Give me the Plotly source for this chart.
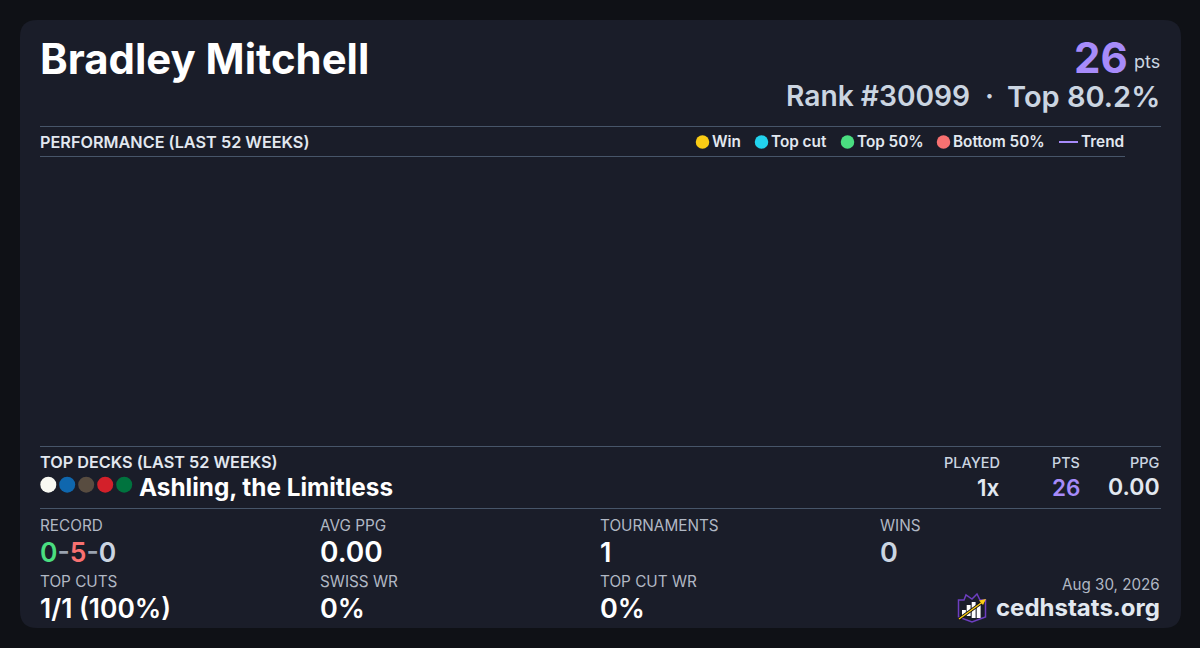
#!/usr/bin/env python3
import plotly.graph_objects as go

FONT = "Inter"
PAGE_BG = "#0f1116"
CARD_BG = "#1a1d29"
RULE = "#475569"
WHITE = "#ffffff"
PURPLE = "#a78bfa"
SLATE = "#cbd5e1"
LIGHT = "#e2e8f0"
MUTED = "#b1b8c4"

player_name = "Bradley Mitchell"
points = 26
rank_left = "Rank #30099"
rank_sep = "·"
rank_right = "Top 80.2%"

legend_labels = ["Win", "Top cut", "Top 50%", "Bottom 50%"]
legend_colors = ["#facc15", "#22d3ee", "#4ade80", "#f87171"]

deck_name = "Ashling, the Limitless"
deck_colors = ["#f8f8f2", "#0f67ae", "#584c40", "#d3202a", "#00733e"]
deck_played = "1x"
deck_pts = "26"
deck_ppg = "0.00"

stat_labels = ["RECORD", "AVG PPG", "TOURNAMENTS", "WINS", "TOP CUTS", "SWISS WR", "TOP CUT WR"]
stat_values = ["0-5-0", "0.00", "1", "0", "1/1 (100%)", "0%", "0%"]

fig = go.Figure()


def label(x, y, text, size, color, weight=400, anchor="left"):
    fig.add_annotation(
        x=x, y=y, text=text, showarrow=False, xanchor=anchor, yanchor="middle",
        xref="x", yref="y", borderpad=0, borderwidth=0,
        font=dict(family=FONT, size=size, color=color, weight=weight),
    )


def rounded(x0, y0, x1, y1, r):
    return (f"M{x0+r},{y0} L{x1-r},{y0} Q{x1},{y0} {x1},{y0+r} L{x1},{y1-r} Q{x1},{y1} {x1-r},{y1} "
            f"L{x0+r},{y1} Q{x0},{y1} {x0},{y1-r} L{x0},{y0+r} Q{x0},{y0} {x0+r},{y0} Z")


def rule(x0, x1, y):
    fig.add_shape(type="line", x0=x0, x1=x1, y0=y, y1=y, line=dict(color=RULE, width=1))


fig.add_shape(type="path", path=rounded(20, 20, 1181, 628, 17), fillcolor=CARD_BG, line_width=0, layer="below")

# header
label(40, 58, player_name, 41.9, WHITE, 700)
label(1127.5, 57.5, str(points), 42, PURPLE, 700, "right")
label(1159.5, 61.5, "pts", 18, SLATE, 400, "right")
label(970, 96, rank_left, 28.2, SLATE, 600, "right")
label(989, 95.5, rank_sep, 28, SLATE, 600, "center")
label(1160, 96, rank_right, 29, SLATE, 600, "right")

# performance section, no games in the window so the plot area stays empty
rule(40, 1161, 126.5)
rule(40, 1125, 156.5)
label(40, 142, "PERFORMANCE (LAST 52 WEEKS)", 16.25, LIGHT, 600)

legend_x = [702.5, 761.5, 847.5, 943.5]
fig.add_trace(go.Scatter(
    x=legend_x, y=[142] * len(legend_x), mode="markers", hoverinfo="skip",
    marker=dict(size=13.5, color=legend_colors, line_width=0),
))
for x, text in zip(legend_x, legend_labels):
    label(x + 9.5, 141.5, text, 15.3, LIGHT, 600)
fig.add_shape(type="line", x0=1059, x1=1078, y0=142, y1=142, line=dict(color=PURPLE, width=2))
label(1081, 141.5, "Trend", 15.4, LIGHT, 600)

# top decks
rule(40, 1161, 446.5)
rule(40, 1161, 508.5)
label(40, 462, "TOP DECKS (LAST 52 WEEKS)", 16.25, LIGHT, 600)
deck_x = [48.3, 67.2, 86.2, 105.2, 124.2]
fig.add_trace(go.Scatter(
    x=deck_x, y=[484.7] * len(deck_x), mode="markers", hoverinfo="skip",
    marker=dict(size=16, color=deck_colors, line_width=0),
))
label(139, 487, deck_name, 24.3, WHITE, 700)
label(1000, 462, "PLAYED", 14.5, SLATE, 500, "right")
label(1080, 462, "PTS", 14.3, SLATE, 500, "right")
label(1159, 462, "PPG", 14.5, SLATE, 500, "right")
label(1000, 487, deck_played, 22.5, LIGHT, 600, "right")
label(1080, 487, deck_pts, 22.5, PURPLE, 600, "right")
label(1159.5, 487, deck_ppg, 23, LIGHT, 600, "right")

# stat grid
stat_x = [40, 320, 600, 880, 40, 320, 600]
stat_label_y = [525.3, 525.3, 525.3, 525.3, 581.3, 581.3, 581.3]
stat_value_y = [552, 552, 552, 552, 608, 608, 608]
stat_size = [26.5, 28, 27, 27, 26.4, 27, 27]
for i, name in enumerate(stat_labels):
    label(stat_x[i], stat_label_y[i], name, 15.3, MUTED, 400)
    value = stat_values[i]
    color = WHITE
    if name == "RECORD":
        w, l, d = value.split("-")
        value = (f"<span style='color:#4ade80'>{w}</span>-"
                 f"<span style='color:#f87171'>{l}</span>-<span style='color:#cbd5e1'>{d}</span>")
        color = "#9aa3b0"
    if name == "WINS":
        color = SLATE
    label(stat_x[i], stat_value_y[i], value, stat_size[i], color, 600)

# footer
label(1160, 584, "Aug 30, 2026", 15.2, MUTED, 400, "right")
label(1160, 607.5, "cedhstats.org", 24, LIGHT, 700, "right")

# logo
fig.add_shape(type="path", line=dict(color="#6d3fc0", width=1.5), fillcolor=CARD_BG,
              path="M958.5,600 L964,600 L966,595 L972,599 L977,594 L980,600 L985.5,600 L985.5,617 L972,622 L958.5,617 Z")
for x0, y0, y1 in [(962, 610, 616), (966.7, 605, 616), (971.7, 602, 618), (976.7, 605, 618)]:
    fig.add_shape(type="rect", x0=x0, x1=x0 + 3.9, y0=y0, y1=y1, fillcolor=WHITE, line_width=0)
fig.add_shape(type="line", x0=959, y0=619, x1=984, y1=601, line=dict(color="#111111", width=3))
fig.add_shape(type="line", x0=959, y0=619, x1=984, y1=601, line=dict(color="#facc15", width=1.5))
fig.add_shape(type="path", path="M986,599 L979,600.5 L983,605 Z", fillcolor="#facc15", line_width=0)

fig.update_layout(
    width=1200, height=648, margin=dict(l=0, r=0, t=0, b=0),
    paper_bgcolor=PAGE_BG, plot_bgcolor=PAGE_BG, showlegend=False,
    xaxis=dict(range=[0, 1200], visible=False, fixedrange=True),
    yaxis=dict(range=[648, 0], visible=False, fixedrange=True),
)

fig.write_html("out.html", config=dict(displayModeBar=False),
               post_script="document.body.style.margin='0';")
